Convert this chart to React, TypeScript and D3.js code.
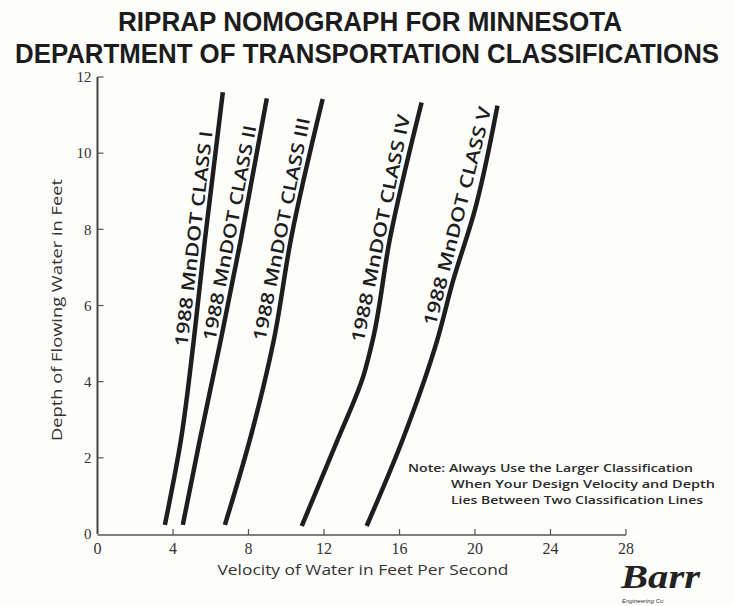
import React from 'react';
import * as d3 from 'd3';

const W = 734;
const H = 606;

const xTicks = [0, 4, 8, 12, 16, 20, 24, 28];
const yTicks = [0, 2, 4, 6, 8, 10, 12];

// velocity (ft/s) and depth (ft)
const classNames = ['I', 'II', 'III', 'IV', 'V'];
const velI = [3.57, 4.42, 5.1, 5.69, 6.64];
const depI = [0.24, 2.47, 5.09, 7.72, 11.6];
const velII = [4.52, 5.42, 6.53, 7.59, 8.97];
const depII = [0.24, 2.47, 5.09, 7.72, 11.44];
const velIII = [6.75, 8.07, 9.34, 10.24, 11.93];
const depIII = [0.24, 2.47, 5.09, 7.72, 11.42];
const velIV = [10.82, 12.72, 14.1, 14.58, 15.48, 17.17];
const depIV = [0.21, 2.47, 4.17, 5.09, 7.72, 11.33];
const velV = [14.26, 16.16, 18.0, 18.85, 19.95, 21.19];
const depV = [0.21, 2.47, 5.09, 6.67, 8.43, 11.25];

// depth at the middle of each rotated label, and its drawn length
const labelDepth = [7.72, 7.85, 7.93, 7.95, 8.27];
const labelLen = [217, 219, 227, 232, 225];

const titleLines = ['RIPRAP NOMOGRAPH FOR MINNESOTA', 'DEPARTMENT OF TRANSPORTATION  CLASSIFICATIONS'];

const noteLines = [
  'Note: Always Use the Larger Classification',
  'When Your Design Velocity and Depth',
  'Lies Between Two Classification Lines',
];

const x = d3.scaleLinear().domain([0, 28]).range([97.5, 626]);
const y = d3.scaleLinear().domain([0, 12]).range([534, 77]);

const series = [
  [velI, depI],
  [velII, depII],
  [velIII, depIII],
  [velIV, depIV],
  [velV, depV],
].map(([v, d]) => v.map((vv, i) => ({ v: vv, d: d[i] })));

const line = d3
  .line<{ v: number; d: number }>()
  .x(p => x(p.v))
  .y(p => y(p.d))
  .curve(d3.curveMonotoneY);

const labelFont = '"Open Sans", "DejaVu Sans", sans-serif';
const tickFont = '"Liberation Serif", "DejaVu Serif", serif';

// put the label's baseline on the chord of the curve, pushed left so it clears the line
function labelPlacement(k: number) {
  const pts = series[k];
  const vAt = d3.scaleLinear().domain(pts.map(p => p.d)).range(pts.map(p => p.v));
  const dc = labelDepth[k];
  const half = labelLen[k] / 2 / (y(0) - y(1));
  const a = [x(vAt(dc - half)), y(dc - half)];
  const b = [x(vAt(dc + half)), y(dc + half)];
  const dx = b[0] - a[0];
  const dy = b[1] - a[1];
  const n = Math.hypot(dx, dy);
  const nx = dy / n;
  const ny = -dx / n; // left-hand normal
  let sag = 0;
  d3.range(0, 1.0001, 0.05).forEach(t => {
    const dd = dc - half + t * 2 * half;
    const px = x(vAt(dd)) - a[0];
    const py = y(dd) - a[1];
    sag = Math.max(sag, px * nx + py * ny);
  });
  const off = 5 + sag;
  const angle = (Math.atan2(dy, dx) * 180) / Math.PI;
  const cx = (a[0] + b[0]) / 2 + nx * off;
  const cy = (a[1] + b[1]) / 2 + ny * off;
  return { cx, cy, angle };
}

export default function App() {
  return (
    <svg
      width={W}
      height={H}
      style={{ position: 'absolute', left: 0, top: 0, background: '#fdfdfb' }}
    >
      {titleLines.map((s, i) => (
        <text
          key={'t' + i}
          transform={`translate(${i === 0 ? 370 : 367},${i === 0 ? 31 : 63}) scale(1,1.12)`}
          textAnchor="middle"
          fontFamily='"Liberation Sans", Arial, sans-serif'
          fontWeight="bold"
          fontSize={25}
          fill="#1c1c1c"
          textLength={i === 0 ? 504 : 704}
          lengthAdjust="spacingAndGlyphs"
        >
          {s}
        </text>
      ))}

      {/* axes */}
      <line x1={x(0)} x2={x(0)} y1={y(12)} y2={y(0)} stroke="#444" strokeWidth={2} />
      <line x1={x(0)} x2={x(28)} y1={y(0) + 1} y2={y(0) + 1} stroke="#555" strokeWidth={1.5} />
      {yTicks.map(t => (
        <g key={'y' + t}>
          {t > 0 && (
            <line x1={x(0)} x2={x(0) + 6} y1={y(t)} y2={y(t)} stroke="#555" strokeWidth={1.2} />
          )}
          <text
            x={x(0) - 6}
            y={y(t)}
            dy="0.35em"
            textAnchor="end"
            fontFamily={tickFont}
            fontSize={15}
            fill="#333"
          >
            {t}
          </text>
        </g>
      ))}
      {xTicks.map(t => (
        <g key={'x' + t}>
          {t > 0 && (
            <line x1={x(t)} x2={x(t)} y1={y(0) + 1} y2={y(0) - 5} stroke="#555" strokeWidth={1.2} />
          )}
          <text
            x={x(t)}
            y={554}
            textAnchor="middle"
            fontFamily={tickFont}
            fontSize={16}
            fill="#333"
          >
            {t}
          </text>
        </g>
      ))}

      <text
        x={363}
        y={575}
        textAnchor="middle"
        fontFamily={labelFont}
        fontSize={15}
        fill="#333"
        textLength={291}
        lengthAdjust="spacingAndGlyphs"
      >
        Velocity of Water in Feet Per Second
      </text>
      <text
        transform="translate(62,310) rotate(-90)"
        textAnchor="middle"
        fontFamily={labelFont}
        fontSize={15}
        fill="#333"
        textLength={262}
        lengthAdjust="spacingAndGlyphs"
      >
        Depth of Flowing Water in Feet
      </text>

      {/* class lines */}
      {series.map((pts, k) => (
        <path
          key={'c' + k}
          d={line(pts) || ''}
          fill="none"
          stroke="#1e1e1e"
          strokeWidth={4.5}
          strokeLinecap="butt"
        />
      ))}
      {classNames.map((c, k) => {
        const p = labelPlacement(k);
        return (
          <text
            key={'l' + k}
            transform={`translate(${p.cx},${p.cy}) rotate(${p.angle})`}
            textAnchor="middle"
            fontFamily={labelFont}
            fontWeight={600}
            fontSize={18}
            fill="#1e1e1e"
            textLength={labelLen[k]}
            lengthAdjust="spacingAndGlyphs"
          >
            {`1988 MnDOT CLASS ${c}`}
          </text>
        );
      })}

      {/* note */}
      {noteLines.map((s, i) => (
        <text
          key={'n' + i}
          x={i === 0 ? 408 : 451}
          y={472 + i * 16}
          fontFamily={labelFont}
          fontWeight={600}
          fontSize={11.5}
          fill="#2a2a2a"
          textLength={i === 0 ? 285 : i === 1 ? 264 : 252}
          lengthAdjust="spacingAndGlyphs"
        >
          {s}
        </text>
      ))}

      {/* logo */}
      <text
        x={621}
        y={588}
        fontFamily='"Liberation Serif", "DejaVu Serif", serif'
        fontWeight="bold"
        fontStyle="italic"
        fontSize={34}
        fill="#222"
        textLength={79}
        lengthAdjust="spacingAndGlyphs"
      >
        Barr
      </text>
      <text
        x={622}
        y={603}
        fontFamily='"Liberation Sans", Arial, sans-serif'
        fontStyle="italic"
        fontSize={6}
        fill="#333"
      >
        Engineering Co
      </text>
    </svg>
  );
}
